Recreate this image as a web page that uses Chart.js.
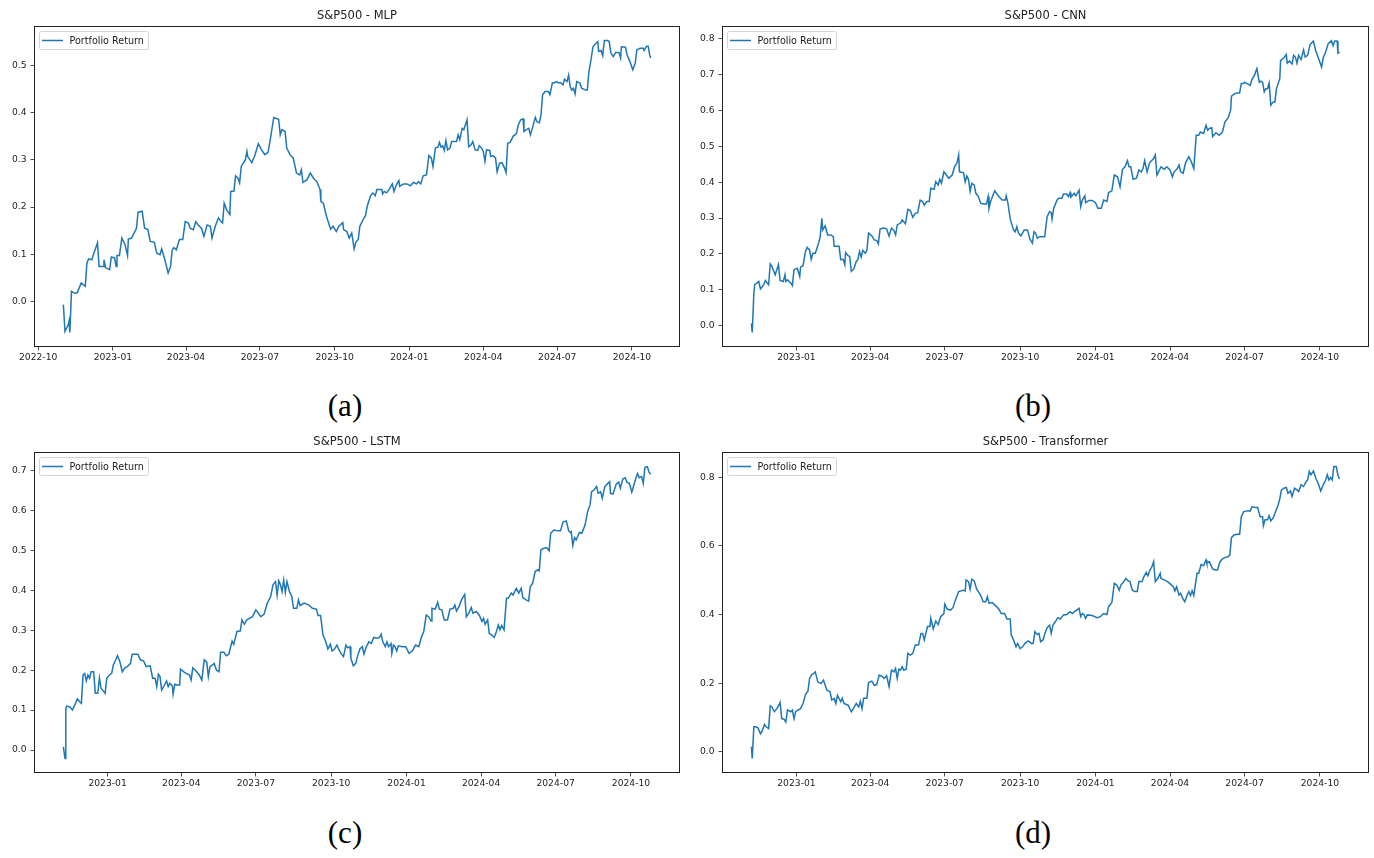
<!DOCTYPE html>
<html>
<head>
<meta charset="utf-8">
<script src="https://cdn.jsdelivr.net/npm/chart.js@4.4.1/dist/chart.umd.min.js"></script>
<style>
  html, body { margin: 0; padding: 0; background: #fff; }
  #fig { position: relative; width: 1374px; height: 858px; overflow: hidden; background: #fff; }
  .panel { position: absolute; }
  .sub { position: absolute; width: 80px; margin-left: -40px; text-align: center; font: 31px "Liberation Serif", serif; color: #000; line-height: 34px; }
</style>
</head>
<body>
<div id="fig"></div>
<script>
// =============================
// DATA
// =============================
const titles = ["S&P500 - MLP", "S&P500 - CNN", "S&P500 - LSTM", "S&P500 - Transformer"];
const subLabels = ["(a)", "(b)", "(c)", "(d)"];
const legendLabel = "Portfolio Return";

const xTicksA = ["2022-10","2023-01","2023-04","2023-07","2023-10","2024-01","2024-04","2024-07","2024-10"];
const xTicksBCD = ["2023-01","2023-04","2023-07","2023-10","2024-01","2024-04","2024-07","2024-10"];
const yTicksA = [0.0, 0.1, 0.2, 0.3, 0.4, 0.5];
const yTicksB = [0.0, 0.1, 0.2, 0.3, 0.4, 0.5, 0.6, 0.7, 0.8];
const yTicksC = [0.0, 0.1, 0.2, 0.3, 0.4, 0.5, 0.6, 0.7];
const yTicksD = [0.0, 0.2, 0.4, 0.6, 0.8];

// MLP
const datesA = [
  "2022-11-01","2022-11-03","2022-11-07","2022-11-08","2022-11-09","2022-11-11","2022-11-15","2022-11-18","2022-11-23","2022-11-28","2022-11-30",
  "2022-12-02","2022-12-06","2022-12-08","2022-12-13","2022-12-15","2022-12-20","2022-12-21","2022-12-23","2022-12-28","2022-12-30",
  "2023-01-03","2023-01-05","2023-01-06","2023-01-09","2023-01-12","2023-01-16","2023-01-19","2023-01-20","2023-01-24","2023-01-30",
  "2023-02-01","2023-02-06","2023-02-09","2023-02-13","2023-02-16","2023-02-21","2023-02-24","2023-02-28",
  "2023-03-02","2023-03-05","2023-03-07","2023-03-10","2023-03-13","2023-03-15","2023-03-17","2023-03-20","2023-03-24","2023-03-28","2023-03-31",
  "2023-04-04","2023-04-06","2023-04-10","2023-04-13","2023-04-16","2023-04-20","2023-04-23","2023-04-27",
  "2023-05-01","2023-05-03","2023-05-07","2023-05-11","2023-05-14","2023-05-16","2023-05-18","2023-05-21","2023-05-25","2023-05-26","2023-05-30",
  "2023-06-01","2023-06-04","2023-06-06","2023-06-08","2023-06-13","2023-06-15","2023-06-16","2023-06-21","2023-06-25","2023-06-29",
  "2023-07-03","2023-07-07","2023-07-11","2023-07-14","2023-07-18","2023-07-24","2023-07-26","2023-07-28",
  "2023-08-01","2023-08-03","2023-08-07","2023-08-11","2023-08-15","2023-08-19","2023-08-21","2023-08-23","2023-08-28",
  "2023-09-01","2023-09-05","2023-09-09","2023-09-13","2023-09-14","2023-09-17","2023-09-21","2023-09-26","2023-09-29",
  "2023-10-03","2023-10-06","2023-10-11","2023-10-12","2023-10-16","2023-10-19","2023-10-22","2023-10-25","2023-10-27","2023-10-30",
  "2023-11-01","2023-11-05","2023-11-08","2023-11-10","2023-11-14","2023-11-17","2023-11-20","2023-11-22","2023-11-28","2023-11-29",
  "2023-12-01","2023-12-04","2023-12-08","2023-12-11","2023-12-13","2023-12-16","2023-12-19","2023-12-20","2023-12-25","2023-12-29",
  "2024-01-02","2024-01-06","2024-01-10","2024-01-12","2024-01-15","2024-01-18","2024-01-22","2024-01-25","2024-01-28","2024-01-30",
  "2024-02-02","2024-02-05","2024-02-07","2024-02-09","2024-02-11","2024-02-13","2024-02-15","2024-02-17","2024-02-20","2024-02-22","2024-02-28",
  "2024-03-01","2024-03-03","2024-03-06","2024-03-08","2024-03-12","2024-03-14","2024-03-17","2024-03-19","2024-03-22","2024-03-25","2024-03-27","2024-03-30",
  "2024-04-01","2024-04-03","2024-04-05","2024-04-09","2024-04-10","2024-04-13","2024-04-16","2024-04-18","2024-04-21","2024-04-24","2024-04-27","2024-04-29",
  "2024-05-01","2024-05-04","2024-05-08","2024-05-10","2024-05-12","2024-05-14","2024-05-17","2024-05-20","2024-05-21","2024-05-24","2024-05-27","2024-05-29",
  "2024-06-01","2024-06-04","2024-06-06","2024-06-09","2024-06-11","2024-06-13","2024-06-16","2024-06-20","2024-06-22","2024-06-25","2024-06-27","2024-06-30",
  "2024-07-03","2024-07-05","2024-07-08","2024-07-10","2024-07-13","2024-07-15","2024-07-17","2024-07-19","2024-07-21","2024-07-23","2024-07-25","2024-07-29","2024-07-31",
  "2024-08-05","2024-08-07","2024-08-09","2024-08-11","2024-08-14","2024-08-17","2024-08-20","2024-08-21","2024-08-24","2024-08-26","2024-08-28",
  "2024-09-01","2024-09-03","2024-09-05","2024-09-08","2024-09-11","2024-09-15","2024-09-17","2024-09-18","2024-09-23","2024-09-25","2024-09-29",
  "2024-10-02","2024-10-05","2024-10-07","2024-10-11","2024-10-15","2024-10-16","2024-10-19","2024-10-21","2024-10-23","2024-10-24"
];
const returnsA = [
  -0.007,-0.064,-0.050,-0.042,-0.066,0.021,0.017,0.018,0.039,0.032,0.081,
  0.090,0.088,0.099,0.124,0.074,0.074,0.088,0.071,0.067,0.094,
  0.092,0.074,0.097,0.097,0.134,0.120,0.097,0.132,0.134,0.155,
  0.189,0.191,0.155,0.152,0.127,0.125,0.102,0.099,
  0.111,0.094,0.081,0.060,0.074,0.109,0.114,0.109,0.131,0.131,0.169,
  0.166,0.155,0.152,0.169,0.162,0.155,0.138,0.162,
  0.159,0.134,0.159,0.177,0.169,0.166,0.208,0.194,0.184,0.233,0.234,
  0.266,0.261,0.251,0.286,0.300,0.318,0.307,0.294,0.311,0.334,
  0.321,0.311,0.316,0.346,0.390,0.386,0.353,0.364,
  0.360,0.325,0.311,0.304,0.272,0.268,0.279,0.252,0.258,
  0.272,0.261,0.254,0.237,0.212,0.208,0.180,0.153,0.159,
  0.148,0.159,0.167,0.152,0.148,0.134,0.145,0.111,0.125,0.131,
  0.159,0.173,0.182,0.201,0.223,0.230,0.224,0.237,0.237,0.228,
  0.233,0.230,0.240,0.249,0.233,0.247,0.256,0.244,0.249,0.249,
  0.245,0.252,0.249,0.254,0.249,0.266,0.268,0.309,0.304,0.286,
  0.325,0.327,0.337,0.327,0.330,0.320,0.341,0.321,0.325,0.339,0.339,
  0.353,0.343,0.367,0.364,0.385,0.328,0.332,0.339,0.321,0.320,0.330,0.325,
  0.318,0.297,0.321,0.320,0.307,0.309,0.304,0.275,0.293,0.294,0.283,0.273,
  0.335,0.337,0.351,0.353,0.357,0.374,0.385,0.387,0.360,0.364,0.367,0.353,
  0.371,0.390,0.381,0.379,0.395,0.438,0.445,0.445,0.438,0.463,0.463,0.466,
  0.463,0.464,0.459,0.471,0.466,0.480,0.455,0.448,0.452,0.440,0.466,0.463,0.452,
  0.448,0.448,0.487,0.506,0.540,0.546,0.551,0.530,0.532,0.521,0.553,
  0.553,0.551,0.527,0.519,0.528,0.528,0.516,0.540,0.539,0.523,0.506,
  0.491,0.505,0.533,0.537,0.537,0.532,0.541,0.541,0.521,0.516
];

// CNN
const datesB = [
  "2022-11-07","2022-11-08","2022-11-10","2022-11-11","2022-11-14","2022-11-16","2022-11-18","2022-11-22","2022-11-24","2022-11-28","2022-11-30",
  "2022-12-02","2022-12-06","2022-12-08","2022-12-10","2022-12-12","2022-12-16","2022-12-18","2022-12-19","2022-12-21","2022-12-25","2022-12-27","2022-12-29",
  "2023-01-02","2023-01-05","2023-01-06","2023-01-09","2023-01-12","2023-01-14","2023-01-17","2023-01-19","2023-01-21","2023-01-24","2023-01-28","2023-01-30",
  "2023-02-01","2023-02-02","2023-02-05","2023-02-08","2023-02-12","2023-02-15","2023-02-16","2023-02-22","2023-02-24","2023-02-27",
  "2023-03-01","2023-03-02","2023-03-05","2023-03-07","2023-03-09","2023-03-12","2023-03-15","2023-03-17","2023-03-19","2023-03-21","2023-03-23","2023-03-26","2023-03-28","2023-03-30",
  "2023-04-03","2023-04-06","2023-04-09","2023-04-11","2023-04-13","2023-04-17","2023-04-21","2023-04-24","2023-04-27","2023-04-30",
  "2023-05-02","2023-05-04","2023-05-08","2023-05-10","2023-05-14","2023-05-17","2023-05-20","2023-05-23","2023-05-26","2023-05-29",
  "2023-06-01","2023-06-04","2023-06-06","2023-06-09","2023-06-12","2023-06-14","2023-06-18","2023-06-20","2023-06-23","2023-06-25","2023-06-27","2023-06-30",
  "2023-07-03","2023-07-06","2023-07-10","2023-07-13","2023-07-16","2023-07-18","2023-07-19","2023-07-24","2023-07-26","2023-07-28","2023-07-30",
  "2023-08-01","2023-08-03","2023-08-06","2023-08-08","2023-08-11","2023-08-14","2023-08-18","2023-08-21","2023-08-23","2023-08-24","2023-08-26","2023-08-31",
  "2023-09-05","2023-09-09","2023-09-13","2023-09-14","2023-09-16","2023-09-19","2023-09-23","2023-09-25","2023-09-27","2023-09-29",
  "2023-10-02","2023-10-06","2023-10-10","2023-10-13","2023-10-16","2023-10-18","2023-10-20","2023-10-22","2023-10-25","2023-10-28","2023-10-31",
  "2023-11-03","2023-11-06","2023-11-08","2023-11-09","2023-11-11","2023-11-15","2023-11-17","2023-11-21","2023-11-23","2023-11-27","2023-11-29",
  "2023-12-01","2023-12-02","2023-12-06","2023-12-08","2023-12-12","2023-12-14","2023-12-16","2023-12-19","2023-12-20","2023-12-24","2023-12-28",
  "2024-01-01","2024-01-04","2024-01-08","2024-01-11","2024-01-15","2024-01-17","2024-01-21","2024-01-24","2024-01-28","2024-01-31",
  "2024-02-03","2024-02-06","2024-02-09","2024-02-11","2024-02-13","2024-02-16","2024-02-20","2024-02-23","2024-02-26","2024-02-28",
  "2024-03-01","2024-03-04","2024-03-07","2024-03-12","2024-03-14","2024-03-16","2024-03-18","2024-03-21","2024-03-25","2024-03-28",
  "2024-04-01","2024-04-04","2024-04-06","2024-04-10","2024-04-12","2024-04-14","2024-04-17","2024-04-20","2024-04-24","2024-04-27","2024-04-30",
  "2024-05-03","2024-05-06","2024-05-08","2024-05-12","2024-05-15","2024-05-17","2024-05-19","2024-05-22","2024-05-23","2024-05-27","2024-05-31",
  "2024-06-04","2024-06-07","2024-06-11","2024-06-14","2024-06-15","2024-06-19","2024-06-22","2024-06-25","2024-06-27","2024-06-30",
  "2024-07-01","2024-07-04","2024-07-06","2024-07-08","2024-07-10","2024-07-13","2024-07-16","2024-07-19","2024-07-21","2024-07-23","2024-07-25","2024-07-27","2024-07-29","2024-07-31",
  "2024-08-02","2024-08-05","2024-08-07","2024-08-09","2024-08-13","2024-08-14","2024-08-18","2024-08-21","2024-08-22","2024-08-25","2024-08-28","2024-08-30",
  "2024-09-01","2024-09-03","2024-09-05","2024-09-08","2024-09-11","2024-09-13","2024-09-16","2024-09-19","2024-09-23","2024-09-26","2024-09-29",
  "2024-10-03","2024-10-05","2024-10-08","2024-10-11","2024-10-15","2024-10-17","2024-10-19","2024-10-22","2024-10-23","2024-10-25"
];
const returnsB = [
  0.006,-0.019,0.091,0.114,0.119,0.123,0.102,0.114,0.126,0.114,0.172,
  0.165,0.142,0.156,0.170,0.126,0.123,0.142,0.123,0.128,0.119,0.112,0.156,
  0.160,0.137,0.163,0.167,0.207,0.218,0.211,0.185,0.202,0.202,0.230,0.248,
  0.299,0.267,0.278,0.253,0.253,0.248,0.221,0.221,0.184,0.185,
  0.170,0.204,0.195,0.193,0.151,0.158,0.179,0.184,0.207,0.191,0.210,0.202,0.210,0.258,
  0.250,0.239,0.237,0.228,0.269,0.272,0.270,0.250,0.272,0.265,
  0.253,0.281,0.286,0.295,0.284,0.324,0.321,0.302,0.313,0.315,
  0.350,0.346,0.336,0.346,0.346,0.383,0.380,0.401,0.392,0.408,0.397,0.429,
  0.420,0.411,0.420,0.443,0.454,0.476,0.429,0.426,0.401,0.417,0.408,
  0.374,0.397,0.392,0.369,0.360,0.341,0.339,0.339,0.360,0.327,0.346,0.376,
  0.360,0.350,0.350,0.362,0.343,0.297,0.267,0.262,0.276,0.258,
  0.250,0.267,0.267,0.241,0.230,0.262,0.258,0.244,0.248,0.248,0.248,
  0.304,0.318,0.315,0.297,0.327,0.350,0.355,0.355,0.367,0.367,0.360,
  0.371,0.358,0.369,0.362,0.378,0.332,0.350,0.362,0.343,0.349,0.349,
  0.343,0.327,0.327,0.350,0.346,0.371,0.376,0.420,0.415,0.387,
  0.436,0.443,0.460,0.443,0.443,0.408,0.411,0.434,0.429,0.438,
  0.460,0.429,0.454,0.466,0.476,0.420,0.429,0.443,0.436,0.443,
  0.434,0.415,0.429,0.438,0.448,0.429,0.425,0.454,0.471,0.457,0.438,
  0.531,0.531,0.540,0.536,0.559,0.545,0.550,0.552,0.527,0.538,0.531,
  0.540,0.568,0.580,0.601,0.640,0.647,0.649,0.649,0.675,0.675,
  0.679,0.675,0.673,0.670,0.686,0.698,0.717,0.679,0.682,0.679,0.652,0.661,0.661,0.677,
  0.615,0.624,0.624,0.661,0.689,0.740,0.747,0.756,0.732,0.738,0.730,0.754,
  0.749,0.732,0.754,0.742,0.769,0.749,0.754,0.784,0.794,0.766,0.747,
  0.721,0.747,0.763,0.786,0.795,0.781,0.794,0.794,0.760,0.763
];

// LSTM
const datesC = [
  "2022-11-08","2022-11-10","2022-11-11","2022-11-12","2022-11-16","2022-11-19","2022-11-22","2022-11-25","2022-11-28","2022-11-30",
  "2022-12-02","2022-12-04","2022-12-06","2022-12-08","2022-12-10","2022-12-12","2022-12-15","2022-12-17","2022-12-20","2022-12-22","2022-12-24","2022-12-26","2022-12-29","2022-12-31",
  "2023-01-03","2023-01-06","2023-01-08","2023-01-11","2023-01-13","2023-01-16","2023-01-19","2023-01-22","2023-01-25","2023-01-29","2023-01-31",
  "2023-02-05","2023-02-07","2023-02-10","2023-02-14","2023-02-17","2023-02-22","2023-02-25","2023-02-28",
  "2023-03-02","2023-03-04","2023-03-06","2023-03-08","2023-03-11","2023-03-14","2023-03-16","2023-03-18","2023-03-21","2023-03-22","2023-03-24","2023-03-27","2023-03-30","2023-03-31",
  "2023-04-04","2023-04-07","2023-04-11","2023-04-13","2023-04-15","2023-04-19","2023-04-23","2023-04-26","2023-04-29",
  "2023-05-02","2023-05-04","2023-05-06","2023-05-09","2023-05-11","2023-05-14","2023-05-17","2023-05-19","2023-05-23","2023-05-26","2023-05-29",
  "2023-06-02","2023-06-04","2023-06-08","2023-06-12","2023-06-14","2023-06-17","2023-06-20","2023-06-23","2023-06-27",
  "2023-07-01","2023-07-04","2023-07-07","2023-07-11","2023-07-15","2023-07-19","2023-07-22","2023-07-25","2023-07-27","2023-07-29","2023-07-31",
  "2023-08-02","2023-08-04","2023-08-06","2023-08-08","2023-08-11","2023-08-14","2023-08-16","2023-08-20","2023-08-22","2023-08-24","2023-08-29",
  "2023-09-04","2023-09-08","2023-09-13","2023-09-15","2023-09-18","2023-09-21","2023-09-24","2023-09-27","2023-09-30",
  "2023-10-02","2023-10-05","2023-10-08","2023-10-10","2023-10-13","2023-10-16","2023-10-19","2023-10-21","2023-10-24","2023-10-25","2023-10-28","2023-10-31",
  "2023-11-02","2023-11-05","2023-11-08","2023-11-10","2023-11-13","2023-11-16","2023-11-19","2023-11-22","2023-11-26","2023-11-29",
  "2023-12-01","2023-12-03","2023-12-06","2023-12-08","2023-12-10","2023-12-13","2023-12-14","2023-12-16","2023-12-18","2023-12-20","2023-12-22","2023-12-27","2023-12-31",
  "2024-01-04","2024-01-08","2024-01-12","2024-01-16","2024-01-19","2024-01-22","2024-01-25","2024-01-28","2024-01-31",
  "2024-02-01","2024-02-05","2024-02-08","2024-02-10","2024-02-13","2024-02-16","2024-02-20","2024-02-23","2024-02-27","2024-02-29",
  "2024-03-02","2024-03-05","2024-03-08","2024-03-12","2024-03-14","2024-03-17","2024-03-20","2024-03-22","2024-03-26","2024-03-30",
  "2024-04-02","2024-04-04","2024-04-06","2024-04-09","2024-04-11","2024-04-14","2024-04-17","2024-04-20","2024-04-22","2024-04-24","2024-04-26","2024-04-29",
  "2024-05-02","2024-05-04","2024-05-08","2024-05-10","2024-05-14","2024-05-17","2024-05-20","2024-05-22","2024-05-26","2024-05-29","2024-05-31",
  "2024-06-03","2024-06-06","2024-06-09","2024-06-11","2024-06-13","2024-06-16","2024-06-20","2024-06-23","2024-06-25","2024-06-29",
  "2024-07-04","2024-07-07","2024-07-10","2024-07-14","2024-07-17","2024-07-19","2024-07-20","2024-07-22","2024-07-24","2024-07-26","2024-07-30",
  "2024-08-02","2024-08-06","2024-08-09","2024-08-12","2024-08-14","2024-08-17","2024-08-20","2024-08-22","2024-08-25","2024-08-27","2024-08-30",
  "2024-09-02","2024-09-05","2024-09-06","2024-09-09","2024-09-13","2024-09-16","2024-09-18","2024-09-21","2024-09-24","2024-09-26","2024-09-29",
  "2024-10-02","2024-10-04","2024-10-07","2024-10-09","2024-10-11","2024-10-14","2024-10-16","2024-10-18","2024-10-21","2024-10-23","2024-10-25"
];
const returnsC = [
  0.008,-0.021,0.104,0.110,0.108,0.100,0.113,0.128,0.121,0.117,
  0.188,0.192,0.173,0.188,0.180,0.196,0.196,0.142,0.142,0.180,0.155,0.150,0.142,0.180,
  0.188,0.192,0.213,0.226,0.236,0.221,0.196,0.206,0.209,0.217,0.240,
  0.240,0.240,0.226,0.223,0.209,0.211,0.180,0.180,
  0.159,0.190,0.184,0.150,0.161,0.173,0.159,0.167,0.161,0.140,0.165,0.163,0.163,0.203,
  0.196,0.192,0.188,0.175,0.206,0.198,0.188,0.175,0.226,
  0.221,0.184,0.209,0.213,0.217,0.200,0.196,0.245,0.245,0.236,0.240,
  0.273,0.265,0.297,0.298,0.326,0.315,0.326,0.330,0.334,
  0.351,0.343,0.334,0.340,0.368,0.384,0.414,0.422,0.388,0.424,0.414,
  0.397,0.426,0.395,0.422,0.397,0.384,0.355,0.355,0.376,0.362,0.368,
  0.363,0.355,0.353,0.337,0.337,0.288,0.273,0.253,0.265,
  0.248,0.253,0.263,0.253,0.242,0.234,0.263,0.256,0.259,0.230,0.211,0.217,
  0.234,0.253,0.259,0.240,0.259,0.271,0.267,0.282,0.280,0.282,
  0.290,0.271,0.259,0.271,0.259,0.267,0.242,0.263,0.259,0.248,0.261,0.259,0.259,
  0.242,0.248,0.263,0.259,0.282,0.297,0.338,0.334,0.323,
  0.355,0.353,0.370,0.353,0.351,0.326,0.326,0.353,0.355,0.363,
  0.348,0.359,0.376,0.390,0.334,0.343,0.357,0.343,0.347,0.337,
  0.322,0.330,0.315,0.326,0.292,0.288,0.282,0.298,0.313,0.301,0.312,0.301,
  0.380,0.380,0.393,0.388,0.405,0.393,0.405,0.382,0.376,0.373,0.409,
  0.418,0.447,0.451,0.449,0.501,0.505,0.507,0.499,0.543,0.551,
  0.549,0.549,0.571,0.574,0.549,0.545,0.547,0.512,0.532,0.526,0.545,
  0.543,0.564,0.597,0.614,0.647,0.652,0.660,0.643,0.647,0.631,0.660,
  0.666,0.672,0.643,0.641,0.666,0.671,0.656,0.679,0.682,0.671,0.668,
  0.646,0.660,0.681,0.693,0.682,0.685,0.668,0.708,0.710,0.696,0.691
];

// Transformer
const datesD = [
  "2022-11-07","2022-11-08","2022-11-10","2022-11-12","2022-11-15","2022-11-18","2022-11-20","2022-11-23","2022-11-25","2022-11-28","2022-11-30",
  "2022-12-02","2022-12-05","2022-12-08","2022-12-11","2022-12-12","2022-12-14","2022-12-17","2022-12-19","2022-12-21","2022-12-25","2022-12-27","2022-12-29","2022-12-31",
  "2023-01-03","2023-01-06","2023-01-09","2023-01-12","2023-01-15","2023-01-17","2023-01-20","2023-01-22","2023-01-24","2023-01-27","2023-01-31",
  "2023-02-03","2023-02-07","2023-02-11","2023-02-13","2023-02-16","2023-02-18","2023-02-20","2023-02-24","2023-02-26","2023-02-28",
  "2023-03-05","2023-03-09","2023-03-12","2023-03-15","2023-03-18","2023-03-20","2023-03-22","2023-03-24","2023-03-28","2023-03-30",
  "2023-04-03","2023-04-06","2023-04-09","2023-04-12","2023-04-16","2023-04-18","2023-04-21","2023-04-24","2023-04-27","2023-04-30",
  "2023-05-02","2023-05-04","2023-05-06","2023-05-08","2023-05-10","2023-05-12","2023-05-15","2023-05-17","2023-05-20","2023-05-23","2023-05-26","2023-05-30",
  "2023-06-02","2023-06-04","2023-06-06","2023-06-10","2023-06-13","2023-06-14","2023-06-17","2023-06-20","2023-06-23","2023-06-26","2023-06-30",
  "2023-07-01","2023-07-04","2023-07-08","2023-07-11","2023-07-14","2023-07-18","2023-07-21","2023-07-24","2023-07-26","2023-07-27","2023-07-30",
  "2023-08-01","2023-08-03","2023-08-06","2023-08-09","2023-08-11","2023-08-14","2023-08-17","2023-08-20","2023-08-22","2023-08-24","2023-08-28",
  "2023-09-01","2023-09-05","2023-09-08","2023-09-12","2023-09-15","2023-09-19","2023-09-20","2023-09-23","2023-09-26","2023-09-28",
  "2023-10-01","2023-10-04","2023-10-07","2023-10-11","2023-10-15","2023-10-17","2023-10-19","2023-10-22","2023-10-24","2023-10-26","2023-10-29",
  "2023-11-01","2023-11-03","2023-11-06","2023-11-08","2023-11-10","2023-11-13","2023-11-16","2023-11-19","2023-11-23","2023-11-27",
  "2023-12-01","2023-12-04","2023-12-06","2023-12-09","2023-12-12","2023-12-14","2023-12-16","2023-12-18","2023-12-20","2023-12-22","2023-12-28",
  "2024-01-03","2024-01-07","2024-01-11","2024-01-15","2024-01-17","2024-01-21","2024-01-24","2024-01-27","2024-01-30",
  "2024-02-01","2024-02-04","2024-02-07","2024-02-10","2024-02-12","2024-02-15","2024-02-18","2024-02-21","2024-02-23","2024-02-27","2024-02-29",
  "2024-03-03","2024-03-05","2024-03-07","2024-03-10","2024-03-12","2024-03-14","2024-03-17","2024-03-20","2024-03-21","2024-03-25","2024-03-29",
  "2024-04-02","2024-04-05","2024-04-07","2024-04-09","2024-04-12","2024-04-14","2024-04-16","2024-04-19","2024-04-22","2024-04-24","2024-04-26","2024-04-28","2024-04-30",
  "2024-05-04","2024-05-06","2024-05-09","2024-05-12","2024-05-15","2024-05-16","2024-05-19","2024-05-23","2024-05-26","2024-05-29",
  "2024-06-01","2024-06-04","2024-06-07","2024-06-11","2024-06-13","2024-06-15","2024-06-18","2024-06-22","2024-06-25","2024-06-27","2024-06-30",
  "2024-07-04","2024-07-08","2024-07-10","2024-07-14","2024-07-17","2024-07-20","2024-07-23","2024-07-24","2024-07-26","2024-07-29","2024-07-31",
  "2024-08-02","2024-08-05","2024-08-08","2024-08-11","2024-08-13","2024-08-15","2024-08-18","2024-08-21","2024-08-23","2024-08-26","2024-08-28","2024-08-31",
  "2024-09-03","2024-09-05","2024-09-08","2024-09-11","2024-09-14","2024-09-16","2024-09-18","2024-09-20","2024-09-23","2024-09-26","2024-09-29",
  "2024-10-02","2024-10-05","2024-10-08","2024-10-10","2024-10-12","2024-10-14","2024-10-16","2024-10-18","2024-10-21","2024-10-23","2024-10-25"
];
const returnsD = [
  0.015,-0.019,0.073,0.073,0.070,0.053,0.060,0.080,0.073,0.068,0.134,
  0.131,0.117,0.126,0.138,0.144,0.097,0.095,0.087,0.122,0.117,0.122,0.097,0.117,
  0.122,0.126,0.141,0.167,0.177,0.214,0.226,0.228,0.233,0.204,0.199,
  0.209,0.180,0.175,0.151,0.156,0.141,0.165,0.146,0.156,0.141,
  0.136,0.117,0.128,0.141,0.131,0.148,0.126,0.156,0.156,0.202,
  0.206,0.194,0.196,0.224,0.219,0.214,0.222,0.190,0.238,0.233,
  0.243,0.214,0.241,0.238,0.248,0.238,0.241,0.287,0.282,0.287,0.311,0.311,
  0.345,0.345,0.326,0.365,0.365,0.389,0.358,0.381,0.371,0.394,0.403,
  0.430,0.416,0.413,0.420,0.442,0.467,0.469,0.471,0.469,0.501,0.496,
  0.474,0.503,0.498,0.474,0.467,0.455,0.437,0.437,0.452,0.433,0.435,
  0.426,0.416,0.403,0.403,0.387,0.387,0.342,0.326,0.306,0.316,
  0.301,0.306,0.316,0.323,0.316,0.316,0.350,0.342,0.345,0.321,0.326,
  0.350,0.362,0.369,0.345,0.369,0.379,0.391,0.387,0.399,0.400,
  0.408,0.403,0.408,0.413,0.418,0.394,0.403,0.400,0.389,0.399,0.397,
  0.391,0.394,0.403,0.400,0.423,0.435,0.491,0.486,0.471,
  0.486,0.494,0.505,0.498,0.496,0.471,0.467,0.467,0.496,0.496,0.510,
  0.523,0.513,0.527,0.540,0.554,0.496,0.505,0.520,0.505,0.501,0.496,
  0.488,0.481,0.469,0.481,0.457,0.462,0.449,0.437,0.457,0.467,0.455,0.469,0.455,
  0.520,0.520,0.546,0.542,0.559,0.549,0.554,0.533,0.530,0.530,
  0.554,0.562,0.566,0.569,0.574,0.624,0.632,0.634,0.634,0.685,0.700,
  0.702,0.702,0.714,0.712,0.712,0.685,0.685,0.659,0.676,0.676,0.688,
  0.673,0.682,0.700,0.719,0.737,0.763,0.768,0.770,0.753,0.760,0.744,0.768,
  0.763,0.758,0.778,0.773,0.787,0.792,0.817,0.807,0.818,0.797,0.782,
  0.760,0.778,0.792,0.807,0.792,0.799,0.792,0.831,0.831,0.805,0.795
];

// =============================
// HELPERS
// =============================
const FONT = "DejaVu Sans";
const INK = "#222";
const LINE = "#1f77b4";

function dayNum(s) {
  const p = s.split("-").map(Number);
  return Date.UTC(p[0], p[1] - 1, p[2] || 1) / 864e5;
}

// matplotlib-like 5% margins around the data
function padRange(lo, hi) {
  const m = (hi - lo) * 0.05;
  return [lo - m, hi + m];
}

// axes box
const framePlugin = {
  id: "frame",
  afterDraw(chart) {
    const { ctx, chartArea: a } = chart;
    ctx.save();
    ctx.strokeStyle = INK;
    ctx.lineWidth = 1;
    ctx.strokeRect(Math.round(a.left) + 0.5, Math.round(a.top) + 0.5,
      Math.round(a.right - a.left) - 1, Math.round(a.bottom - a.top) - 1);
    ctx.restore();
  }
};

// legend drawn inside the axes, upper left (like matplotlib)
const insideLegend = {
  id: "insideLegend",
  afterDraw(chart) {
    const { ctx, chartArea: a } = chart;
    const label = chart.data.datasets[0].label;
    ctx.save();
    ctx.font = "9.6px '" + FONT + "'";
    const tw = ctx.measureText(label).width;
    const x = Math.round(a.left) + 5.5, y = Math.round(a.top) + 5.5;
    const w = Math.round(tw + 35), h = 18;
    ctx.fillStyle = "rgba(255,255,255,0.8)";
    ctx.strokeStyle = "#d4d4d4";
    ctx.lineWidth = 1;
    ctx.beginPath();
    if (ctx.roundRect) ctx.roundRect(x, y, w, h, 2); else ctx.rect(x, y, w, h);
    ctx.fill();
    ctx.stroke();
    ctx.strokeStyle = LINE;
    ctx.lineWidth = 1.5;
    ctx.beginPath();
    ctx.moveTo(x + 2.5, y + h / 2);
    ctx.lineTo(x + 23.5, y + h / 2);
    ctx.stroke();
    ctx.fillStyle = INK;
    ctx.textBaseline = "middle";
    ctx.fillText(label, x + 30, y + h / 2 + 0.5);
    ctx.restore();
  }
};

// =============================
// PANELS
// =============================
const panels = [
  { dates: datesA, values: returnsA, xTicks: xTicksA,   yTicks: yTicksA, area: [34, 26, 680, 347],    sub: [345, 406] },
  { dates: datesB, values: returnsB, xTicks: xTicksBCD, yTicks: yTicksB, area: [722, 26, 1369, 347],  sub: [1033, 406] },
  { dates: datesC, values: returnsC, xTicks: xTicksBCD, yTicks: yTicksC, area: [34, 452, 680, 773],   sub: [345, 833] },
  { dates: datesD, values: returnsD, xTicks: xTicksBCD, yTicks: yTicksD, area: [722, 452, 1369, 773], sub: [1033, 833] }
];

const fig = document.getElementById("fig");
const PAD_L = 40, PAD_T = 26, PAD_R = 40, PAD_B = 30;
const TITLE_H = 11.5 * 1.2 + 5; // font line + title padding

panels.forEach((p, k) => {
  const [L, T, R, B] = p.area;
  const w = R - L + PAD_L + PAD_R;
  const h = B - T + PAD_T + PAD_B;

  const wrap = document.createElement("div");
  wrap.className = "panel";
  wrap.style.left = (L - PAD_L) + "px";
  wrap.style.top = (T - PAD_T) + "px";
  wrap.style.width = w + "px";
  wrap.style.height = h + "px";
  const canvas = document.createElement("canvas");
  canvas.width = w;
  canvas.height = h;
  wrap.appendChild(canvas);
  fig.appendChild(wrap);

  const xs = p.dates.map(dayNum);
  const [xmin, xmax] = padRange(xs[0], xs[xs.length - 1]);
  const [ymin, ymax] = padRange(Math.min(...p.values), Math.max(...p.values));

  const tickFont = { family: FONT, size: 9.2 };

  new Chart(canvas, {
    type: "line",
    data: {
      datasets: [{
        label: legendLabel,
        data: xs.map((x, i) => ({ x: x, y: p.values[i] })),
        borderColor: LINE,
        borderWidth: 1.5,
        pointRadius: 0,
        tension: 0,
        fill: false
      }]
    },
    options: {
      responsive: false,
      animation: false,
      events: [],
      layout: { padding: { left: 0, right: 0, top: PAD_T - TITLE_H, bottom: 0 } },
      plugins: {
        legend: { display: false },
        tooltip: { enabled: false },
        title: {
          display: true,
          text: titles[k],
          color: INK,
          font: { family: FONT, size: 11.5, weight: "normal", lineHeight: 1.2 },
          padding: { top: 2, bottom: 3 }
        }
      },
      scales: {
        x: {
          type: "linear",
          min: xmin,
          max: xmax,
          bounds: "data",
          afterFit: s => { s.height = PAD_B; },
          afterBuildTicks: s => { s.ticks = p.xTicks.map(t => ({ value: dayNum(t) })); },
          ticks: { callback: (v, i) => p.xTicks[i], font: tickFont, color: INK, padding: 2, maxRotation: 0, autoSkip: false },
          grid: { drawOnChartArea: false, drawTicks: true, tickLength: 3.5, color: INK, lineWidth: 0.8 },
          border: { display: false }
        },
        y: {
          type: "linear",
          min: ymin,
          max: ymax,
          bounds: "data",
          afterFit: s => { s.width = PAD_L; },
          afterBuildTicks: s => { s.ticks = p.yTicks.map(v => ({ value: v })); },
          ticks: { callback: (v, i) => p.yTicks[i].toFixed(1), font: tickFont, color: INK, padding: 4, autoSkip: false },
          grid: { drawOnChartArea: false, drawTicks: true, tickLength: 3.5, color: INK, lineWidth: 0.8 },
          border: { display: false }
        },
        // empty right gutter so the title centres over the axes box
        gutter: {
          type: "linear",
          position: "right",
          display: true,
          afterFit: s => { s.width = PAD_R; },
          ticks: { display: false },
          grid: { display: false },
          border: { display: false }
        }
      }
    },
    plugins: [framePlugin, insideLegend]
  });

  // sub-figure label
  const sb = document.createElement("div");
  sb.className = "sub";
  sb.style.left = p.sub[0] + "px";
  sb.style.top = (p.sub[1] - 17) + "px";
  sb.textContent = subLabels[k];
  fig.appendChild(sb);
});
</script>
</body>
</html>
